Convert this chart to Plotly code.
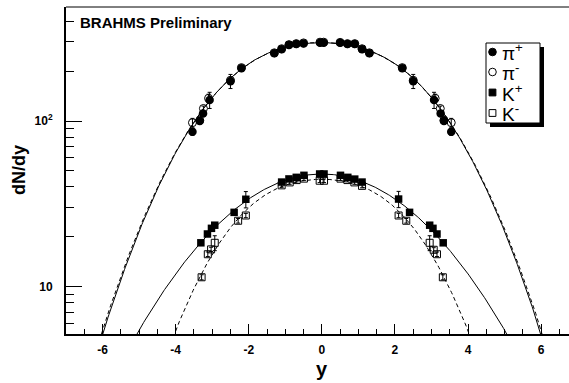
import numpy as np
import plotly.graph_objects as go

# ---------------- data ----------------
pi_plus_y = [-3.54, -3.34, -3.25, -3.07, -2.50, -2.20, -1.30, -1.10, -0.90, -0.70, -0.50, -0.05,
             0.05, 0.50, 0.70, 0.90, 1.10, 1.30, 2.20, 2.50, 3.07, 3.25, 3.34, 3.54]
pi_plus_v = [86, 100, 111, 134, 174, 208, 256, 271, 288, 292, 294, 297,
             297, 297, 292, 292, 271, 256, 208, 174, 134, 111, 100, 86]
pi_plus_err = [4, 4, 4, 15, 17, 6, 6, 6, 6, 6, 6, 6,
               6, 6, 6, 6, 6, 6, 6, 17, 15, 4, 4, 4]

pi_minus_y = [-3.54, -3.34, -3.24, -3.10, -2.50, -2.20, -1.30, -1.10, -0.90, -0.70, -0.50, -0.05,
              0.05, 0.50, 0.70, 0.90, 1.10, 1.30, 2.20, 2.50, 3.10, 3.24, 3.34, 3.54]
pi_minus_v = [97.7, 101, 119, 137, 176, 210, 258, 273, 289, 293, 296, 299,
              299, 298, 293, 293, 273, 258, 210, 176, 137, 119, 101, 97.7]
pi_minus_err = [6, 4, 4, 8, 8, 6, 6, 6, 6, 6, 6, 6,
                6, 6, 6, 6, 6, 6, 6, 8, 8, 4, 4, 6]

k_plus_y = [-3.31, -3.13, -3.02, -2.93, -2.40, -2.08, -1.10, -0.90, -0.70, -0.49, -0.06,
            0.06, 0.51, 0.71, 0.90, 1.10, 2.10, 2.40, 2.95, 3.04, 3.15, 3.32]
k_plus_v = [18.4, 20.8, 22.5, 23.5, 28.1, 33.7, 42.8, 44.7, 45.7, 47.0, 47.9,
            47.9, 47.0, 45.7, 44.6, 42.8, 33.8, 28.1, 23.5, 22.5, 20.8, 18.4]
k_plus_err = [0.6, 0.7, 0.7, 0.7, 0.9, 3.8, 1.2, 1.2, 1.2, 1.2, 1.2,
              1.2, 1.2, 1.2, 1.2, 1.2, 3.8, 0.9, 0.7, 0.7, 0.7, 0.6]

k_minus_y = [-3.29, -3.12, -3.03, -2.93, -2.29, -2.08, -1.10, -0.88, -0.69, -0.49, -0.06,
             0.06, 0.51, 0.70, 0.89, 1.10, 2.10, 2.31, 2.95, 3.06, 3.15, 3.31]
k_minus_v = [11.4, 15.7, 16.8, 18.4, 25.0, 26.9, 40.9, 42.6, 44.0, 44.9, 43.6,
             43.6, 44.9, 44.0, 42.6, 40.6, 26.9, 25.0, 18.4, 16.7, 15.7, 11.4]
k_minus_err = [0.4, 0.5, 0.5, 1.9, 0.8, 0.8, 1.1, 1.1, 1.1, 1.1, 1.1,
               1.1, 1.1, 1.1, 1.1, 1.1, 0.8, 0.8, 1.9, 0.5, 0.5, 0.4]

# fit parameters (double-Gaussian: f0, centroid offset a, width s)
fit_pi_plus = dict(f0=297.0, a=1.38, s=1.70)
fit_pi_minus = dict(f0=298.0, a=1.37, s=1.72)
fit_k_plus = dict(f0=47.9, a=0.0, s=2.40)
fit_k_minus = dict(f0=44.5, a=1.214, s=1.486)

x_tick_vals = [-6, -4, -2, 0, 2, 4, 6]
x_tick_text = ["-6", "-4", "-2", "0", "2", "4", "6"]
y_tick_vals = [10, 100]
y_tick_text = ["10", "10<sup>2</sup>"]
y_minor_vals = [6, 7, 8, 9, 20, 30, 40, 50, 60, 70, 80, 90, 200, 300, 400]

legend_names = ["π<sup>+</sup>", "π<sup>-</sup>", "K<sup>+</sup>", "K<sup>-</sup>"]


def fit_curve(p, y):
    return p["f0"] * np.exp(-y ** 2 / (2 * p["s"] ** 2)) * np.cosh(p["a"] * y / p["s"] ** 2)


yy = np.linspace(-7, 7, 561)

# ---------------- geometry ----------------
W, H = 569, 383
L, R, T, B = 66, 0, 7, 49
PW, PH = W - L - R, H - T - B


def xp(px):
    return (px - L) / PW


def yp(py):
    return (T + PH - py) / PH


fig = go.Figure()

line_specs = [
    (fit_pi_plus, "solid"),
    (fit_pi_minus, "4px,3px"),
    (fit_k_plus, "solid"),
    (fit_k_minus, "4px,3px"),
]
for p, dash in line_specs:
    fig.add_trace(go.Scatter(x=yy, y=fit_curve(p, yy), mode="lines",
                             line=dict(color="black", width=1, dash=dash),
                             hoverinfo="skip", showlegend=False))

err_style = dict(type="data", color="black", thickness=1, width=2)

fig.add_trace(go.Scatter(x=pi_plus_y, y=pi_plus_v, mode="markers", name="π+",
                         error_y=dict(array=pi_plus_err, **err_style),
                         marker=dict(symbol="circle", size=8.5, color="black",
                                     line=dict(width=0)), showlegend=False))
fig.add_trace(go.Scatter(x=pi_minus_y, y=pi_minus_v, mode="markers", name="π-",
                         error_y=dict(array=pi_minus_err, **err_style),
                         marker=dict(symbol="circle-open", size=8, color="black",
                                     line=dict(width=1, color="black")), showlegend=False))
fig.add_trace(go.Scatter(x=k_plus_y, y=k_plus_v, mode="markers", name="K+",
                         error_y=dict(array=k_plus_err, **err_style),
                         marker=dict(symbol="square", size=7.5, color="black",
                                     line=dict(width=0)), showlegend=False))
fig.add_trace(go.Scatter(x=k_minus_y, y=k_minus_v, mode="markers", name="K-",
                         error_y=dict(array=k_minus_err, **err_style),
                         marker=dict(symbol="square-open", size=7, color="black",
                                     line=dict(width=1, color="black")), showlegend=False))

bold = dict(family="Liberation Sans, Arial, sans-serif", size=12, color="black", weight="bold")

x_right = -7 + PW / 36.55
fig.update_layout(
    width=W, height=H,
    margin=dict(l=L, r=R, t=T, b=B, pad=0),
    paper_bgcolor="white", plot_bgcolor="white",
    showlegend=False,
    xaxis=dict(range=[-7, x_right], tickvals=x_tick_vals, ticktext=x_tick_text,
               ticks="inside", ticklen=10,
               tickwidth=1, tickcolor="black", showline=True, linewidth=2, linecolor="black",
               showgrid=False, zeroline=False, tickfont=bold, ticklabelstandoff=4,
               minor=dict(dtick=0.5, tick0=0, ticks="inside", ticklen=5, tickwidth=1,
                          tickcolor="black", showgrid=False)),
    yaxis=dict(type="log", range=[0.7145, 2.688], tickvals=y_tick_vals, ticktext=y_tick_text,
               ticks="inside", ticklen=16, tickwidth=1, tickcolor="black",
               showline=True, linewidth=2, linecolor="black", showgrid=False, zeroline=False,
               tickfont=bold, ticklabelstandoff=9,
               minor=dict(tickvals=y_minor_vals, ticks="inside", ticklen=8, tickwidth=1,
                          tickcolor="black", showgrid=False)),
)

shapes = []
# top frame line
shapes.append(dict(type="line", xref="paper", yref="paper", x0=0, x1=1, y0=1, y1=1,
                   line=dict(color="black", width=1)))
# legend shadow + box
shapes.append(dict(type="rect", xref="paper", yref="paper", x0=xp(490), x1=xp(544),
                   y0=yp(127), y1=yp(47), fillcolor="black", line=dict(width=0)))
shapes.append(dict(type="rect", xref="paper", yref="paper", x0=xp(486), x1=xp(540),
                   y0=yp(123), y1=yp(43), fillcolor="white", line=dict(color="black", width=1)))
leg_y = [52, 72, 92.5, 113]
mx, r = 492.5, 3.8
shapes.append(dict(type="circle", xref="paper", yref="paper", x0=xp(mx - r), x1=xp(mx + r),
                   y0=yp(leg_y[0] + r), y1=yp(leg_y[0] - r), fillcolor="black",
                   line=dict(color="black", width=1)))
shapes.append(dict(type="circle", xref="paper", yref="paper", x0=xp(mx - r), x1=xp(mx + r),
                   y0=yp(leg_y[1] + r), y1=yp(leg_y[1] - r), fillcolor="white",
                   line=dict(color="black", width=1)))
shapes.append(dict(type="rect", xref="paper", yref="paper", x0=xp(mx - 3.4), x1=xp(mx + 3.4),
                   y0=yp(leg_y[2] + 3.4), y1=yp(leg_y[2] - 3.4), fillcolor="black",
                   line=dict(color="black", width=1)))
shapes.append(dict(type="rect", xref="paper", yref="paper", x0=xp(mx - 3.4), x1=xp(mx + 3.4),
                   y0=yp(leg_y[3] + 3.4), y1=yp(leg_y[3] - 3.4), fillcolor="white",
                   line=dict(color="black", width=1)))
fig.update_layout(shapes=shapes)

annotations = []
for name, ly in zip(legend_names, leg_y):
    annotations.append(dict(xref="paper", yref="paper", x=xp(500), y=yp(ly), text=name,
                            showarrow=False, xanchor="left", yanchor="middle",
                            font=dict(family="Liberation Sans, Arial, sans-serif", size=19,
                                      color="black")))
annotations.append(dict(xref="paper", yref="paper", x=xp(78), y=yp(23),
                        text="BRAHMS Preliminary", showarrow=False, xanchor="left",
                        yanchor="middle",
                        font=dict(family="Liberation Sans, Arial, sans-serif", size=15,
                                  color="black", weight="bold")))
annotations.append(dict(xref="paper", yref="paper", x=xp(19), y=yp(170), text="dN/dy",
                        textangle=-90, showarrow=False, xanchor="center", yanchor="middle",
                        font=dict(family="Liberation Sans, Arial, sans-serif", size=18,
                                  color="black", weight="bold")))
annotations.append(dict(xref="paper", yref="paper", x=xp(322), y=yp(369), text="y",
                        showarrow=False, xanchor="center", yanchor="middle",
                        font=dict(family="Liberation Sans, Arial, sans-serif", size=20,
                                  color="black", weight="bold")))
fig.update_layout(annotations=annotations)

fig.write_html("out.html")
